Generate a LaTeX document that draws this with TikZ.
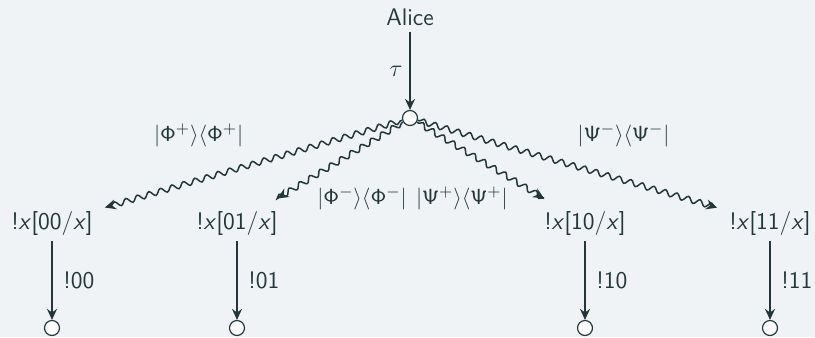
\documentclass[tikz,border=0pt]{standalone}
\usepackage{xcolor}
\usepackage{tikz}
\usetikzlibrary{arrows.meta,positioning,decorations.pathmorphing}
\definecolor{slateTeal}{HTML}{23373B}
\definecolor{paleBg}{HTML}{EFF3F5}

\newcommand{\proj}[2]{$|\mathsf{#1}^{#2}\rangle\langle\mathsf{#1}^{#2}|$}
\newcommand{\xvar}{\textit{x}}

\begin{document}
\begin{tikzpicture}[
    x=0.0176cm, y=-0.0176cm,
    font=\large\sffamily,
    color=slateTeal,
    lbl/.style={inner sep=3pt, text=slateTeal},
    projlbl/.style={font=\fontsize{11}{13}\selectfont\sffamily},
    dot/.style={circle, draw=slateTeal, fill=white, minimum size=7.5pt, inner sep=0pt, line width=0.6pt},
    step arrow/.style={line width=0.75pt, -{Stealth[length=5.5pt, width=5pt]}},
    wavy/.style={line width=0.75pt, -{Stealth[length=5.5pt, width=5pt]}, shorten >=3pt,
      decorate, decoration={snake, amplitude=1.4pt, segment length=6pt, post length=4pt, pre length=1pt}}
  ]
    \fill[paleBg] (0,0) rectangle (815,337);
    \useasboundingbox (0,0) rectangle (815,337);

    % root
    \node[lbl] (alice) at (410,17) {Alice};
    \node[dot] (root) at (410,118) {};
    \draw[step arrow] (alice) -- node[left] {$\tau$} (root);

    % branches
    \node[lbl] (d00) at (52,223) {!\xvar[00/\xvar]};
    \node[lbl] (d01) at (237,223) {!\xvar[01/\xvar]};
    \node[lbl] (d10) at (585,223) {!\xvar[10/\xvar]};
    \node[lbl] (d11) at (770,223) {!\xvar[11/\xvar]};

    \draw[wavy] (root) -- node[projlbl, pos=0.5, anchor=south east, yshift=5pt] {\proj{\Phi}{+}} (d00);
    \draw[wavy, shorten >=6pt] (root) -- node[projlbl, pos=0.7, anchor=north west, xshift=1pt] {\proj{\Phi}{-}} (d01);
    \draw[wavy, shorten >=6pt] (root) -- node[projlbl, pos=0.7, anchor=north east, xshift=1pt] {\proj{\Psi}{+}} (d10);
    \draw[wavy] (root) -- node[projlbl, pos=0.5, anchor=south west, yshift=5pt] {\proj{\Psi}{-}} (d11);

    % leaves
    \node[dot] (e00) at (52,328) {};
    \node[dot] (e01) at (237,328) {};
    \node[dot] (e10) at (585,328) {};
    \node[dot] (e11) at (770,328) {};

    \draw[step arrow] (d00) -- node[right=2pt] {!00} (e00);
    \draw[step arrow] (d01) -- node[right=2pt] {!01} (e01);
    \draw[step arrow] (d10) -- node[right=2pt] {!10} (e10);
    \draw[step arrow] (d11) -- node[right=2pt] {!11} (e11);
  \end{tikzpicture}
\end{document}
